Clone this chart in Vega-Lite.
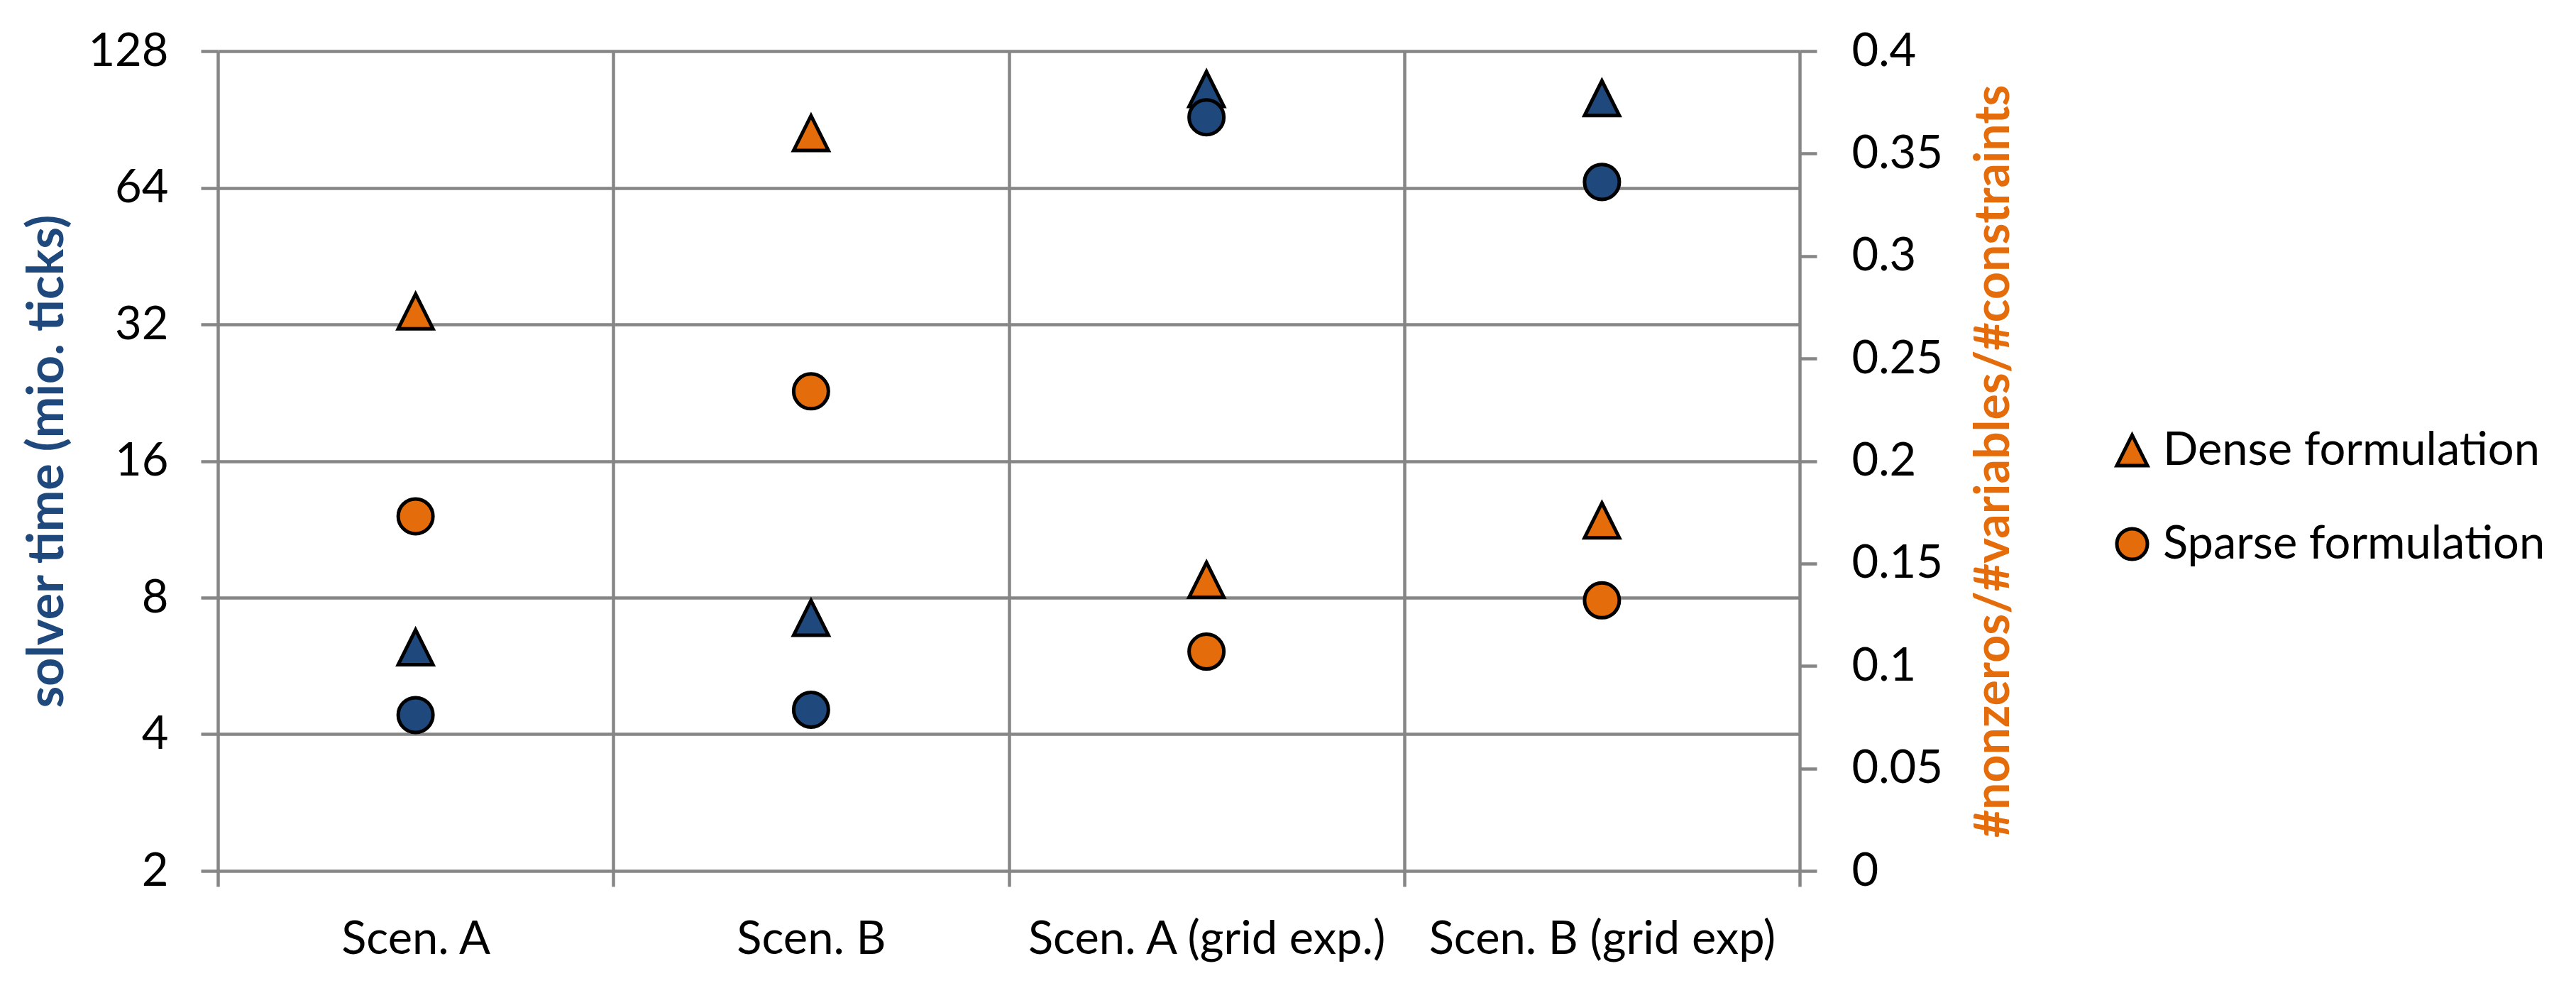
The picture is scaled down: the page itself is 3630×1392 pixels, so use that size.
{
  "$schema": "https://vega.github.io/schema/vega-lite/v6.json",
  "width": 2229,
  "height": 1155,
  "autosize": {"type": "none"},
  "padding": {"left": 307, "top": 72, "right": 1094, "bottom": 165},
  "background": "white",
  "config": {
    "font": "Lato",
    "view": {"stroke": null},
    "axis": {
      "labelFont": "Lato",
      "labelFontSize": 65,
      "labelColor": "black",
      "labelLimit": 0,
      "titleFont": "Lato",
      "titleFontSize": 70,
      "titleFontWeight": "bold",
      "gridColor": "#868686",
      "gridWidth": 4.5,
      "gridOpacity": 1,
      "tickColor": "#868686",
      "tickWidth": 4.5,
      "domainColor": "#868686",
      "domainWidth": 4.5,
      "labelOverlap": false
    },
    "legend": {"symbolStrokeColor": "black", "symbolStrokeWidth": 5, "symbolFillColor": "#E46C0A"}
  },
  "data": {
    "values": [
      {"scenario": "Scen. A", "formulation": "Dense formulation", "measure": "solver time", "value": 6.22},
      {"scenario": "Scen. B", "formulation": "Dense formulation", "measure": "solver time", "value": 7.22},
      {"scenario": "Scen. A (grid exp.)", "formulation": "Dense formulation", "measure": "solver time", "value": 105.6},
      {"scenario": "Scen. B (grid exp)", "formulation": "Dense formulation", "measure": "solver time", "value": 100.8},
      {"scenario": "Scen. A", "formulation": "Sparse formulation", "measure": "solver time", "value": 4.41},
      {"scenario": "Scen. B", "formulation": "Sparse formulation", "measure": "solver time", "value": 4.53},
      {"scenario": "Scen. A (grid exp.)", "formulation": "Sparse formulation", "measure": "solver time", "value": 91.5},
      {"scenario": "Scen. B (grid exp)", "formulation": "Sparse formulation", "measure": "solver time", "value": 65.9},
      {"scenario": "Scen. A", "formulation": "Dense formulation", "measure": "density", "value": 0.273},
      {"scenario": "Scen. B", "formulation": "Dense formulation", "measure": "density", "value": 0.36},
      {"scenario": "Scen. A (grid exp.)", "formulation": "Dense formulation", "measure": "density", "value": 0.142},
      {"scenario": "Scen. B (grid exp)", "formulation": "Dense formulation", "measure": "density", "value": 0.171},
      {"scenario": "Scen. A", "formulation": "Sparse formulation", "measure": "density", "value": 0.173},
      {"scenario": "Scen. B", "formulation": "Sparse formulation", "measure": "density", "value": 0.234},
      {"scenario": "Scen. A (grid exp.)", "formulation": "Sparse formulation", "measure": "density", "value": 0.107},
      {"scenario": "Scen. B (grid exp)", "formulation": "Sparse formulation", "measure": "density", "value": 0.132}
    ]
  },
  "layer": [
    {
      "transform": [{"filter": "datum.measure == 'solver time'"}],
      "mark": {"type": "point", "filled": true, "fill": "#1F497D", "stroke": "black", "strokeWidth": 5, "opacity": 1, "size": 2400},
      "encoding": {
        "x": {
          "field": "scenario", "type": "nominal", "sort": null,
          "scale": {"type": "band", "paddingInner": 0, "paddingOuter": 0},
          "axis": {"title": null, "labelAngle": 0, "labelLimit": 0, "tickBand": "extent", "grid": true, "domain": false, "tickSize": 22, "labelPadding": 43}
        },
        "y": {
          "field": "value", "type": "quantitative",
          "scale": {"type": "log", "base": 2, "domain": [2, 128], "nice": false},
          "axis": {"title": "solver time (mio. ticks)", "titleColor": "#1F497D", "values": [2, 4, 8, 16, 32, 64, 128], "format": "d", "grid": true, "domain": false, "tickSize": 24, "labelPadding": 46, "titlePadding": 20}
        },
        "shape": {
          "field": "formulation", "type": "nominal",
          "scale": {"domain": ["Dense formulation", "Sparse formulation"], "range": ["M0,-1L1,1L-1,1Z", "circle"]},
          "legend": null
        }
      }
    },
    {
      "transform": [{"filter": "datum.measure == 'density'"}],
      "mark": {"type": "point", "filled": true, "fill": "#E46C0A", "strokeWidth": 5, "opacity": 1, "fillOpacity": 1, "size": 2400},
      "encoding": {
        "x": {"field": "scenario", "type": "nominal", "sort": null},
        "y": {
          "field": "value", "type": "quantitative",
          "scale": {"domain": [0, 0.4], "nice": false},
          "axis": {"orient": "right", "title": "#nonzeros/#variables/#constraints", "titleColor": "#E46C0A", "titleFontSize": 68, "titleAngle": 270, "titleBaseline": "top", "values": [0, 0.05, 0.1, 0.15, 0.2, 0.25, 0.3, 0.35, 0.4], "format": "~g", "grid": false, "domain": false, "tickSize": 24, "labelPadding": 49, "titlePadding": 40}
        },
        "stroke": {
          "field": "formulation", "type": "nominal",
          "scale": {"domain": ["Dense formulation", "Sparse formulation"], "range": ["black", "black"]},
          "legend": {
            "title": null, "orient": "none", "legendX": 2665, "legendY": 530,
            "labelFont": "Lato", "labelFontSize": 65, "labelColor": "black", "labelLimit": 0,
            "labelOffset": 11, "rowPadding": 66, "padding": 0, "symbolSize": 1850,
            "symbolFillColor": "#E46C0A", "symbolStrokeWidth": 5,
            "encode": {"symbols": {"strokeWidth": {"value": 5}}}
          }
        },
        "shape": {
          "field": "formulation", "type": "nominal",
          "scale": {"domain": ["Dense formulation", "Sparse formulation"], "range": ["M0,-1L1,1L-1,1Z", "circle"]},
          "legend": {
            "title": null, "orient": "none", "legendX": 2665, "legendY": 530,
            "labelFont": "Lato", "labelFontSize": 65, "labelColor": "black", "labelLimit": 0,
            "labelOffset": 11, "rowPadding": 66, "padding": 0, "symbolSize": 1850,
            "symbolFillColor": "#E46C0A", "symbolStrokeWidth": 5,
            "encode": {"symbols": {"strokeWidth": {"value": 5}}}
          }
        }
      }
    }
  ],
  "resolve": {"scale": {"y": "independent"}, "legend": {"shape": "independent", "stroke": "independent"}}
}
